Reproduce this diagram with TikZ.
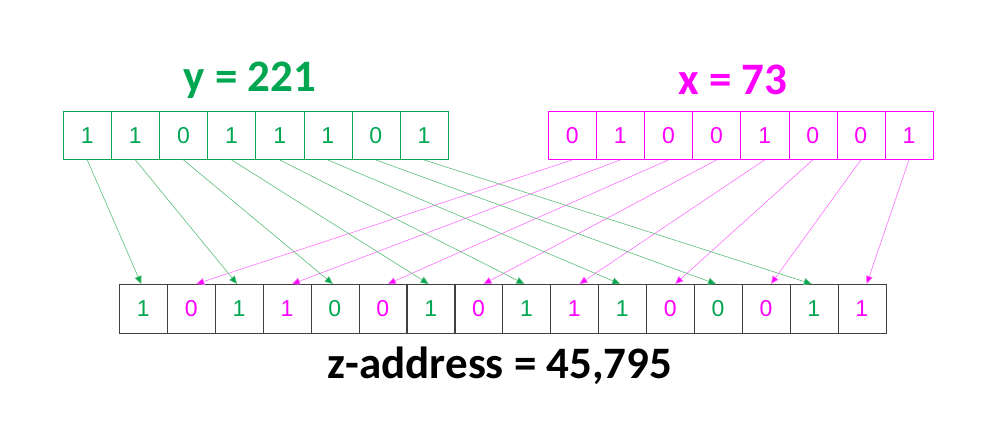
\documentclass[tikz,border=0pt]{standalone}
\usepackage{fontspec}
\setmainfont{Liberation Sans}
\newfontfamily\titlefont{Carlito}
\usetikzlibrary{arrows.meta,calc}
\definecolor{gr}{RGB}{0,166,80}
\definecolor{grl}{RGB}{90,190,120}
\definecolor{mg}{RGB}{255,0,255}
\definecolor{mgl}{RGB}{255,110,255}
\begin{document}
\begin{tikzpicture}[x=1pt,y=-1pt,
  cell/.style={draw=#1,minimum width=48.1pt,minimum height=48.5pt,inner sep=0pt,anchor=north west,font=\fontsize{23}{23}\selectfont},
  ttl/.style={font=\titlefont\bfseries\fontsize{45}{45}\selectfont},
  ga/.style={grl,-{Triangle[length=8pt,width=7pt,fill=gr]},line width=0.6pt},
  ma/.style={mgl,-{Triangle[length=8pt,width=7pt,fill=mg]},line width=0.6pt}]
\useasboundingbox (0,0) rectangle (1000,427);
\node[ttl,text=gr] (yt) at (250,80) {y = 221};
\node[ttl,text=mg] (xt) at (733,80) {x = 73};
\node[ttl,text=black] (zt) at (500,366) {z-address = 45,795};
\foreach \b [count=\i from 0] in {1,1,0,1,1,1,0,1}
  \node[cell=gr,text=gr] (y\i) at ({63+48.1*\i},111) {\b};
\foreach \b [count=\i from 0] in {0,1,0,0,1,0,0,1}
  \node[cell=mg,text=mg] (x\i) at ({548+48.1*\i},111) {\b};
\foreach \b/\c [count=\i from 0] in {1/gr,0/mg,1/gr,1/mg,0/gr,0/mg,1/gr,0/mg,1/gr,1/mg,1/gr,0/mg,0/gr,0/mg,1/gr,1/mg}
  \node[cell=black!75,text=\c] (z\i) at ({119+47.9*\i},284) {\b};
\foreach \i in {0,...,7}{
  \pgfmathtruncatemacro\g{2*\i}
  \pgfmathtruncatemacro\m{2*\i+1}
  \draw[ga] (y\i.south) -- ($(z\g.north)+(-2,0)$);
  \draw[ma] (x\i.south) -- ($(z\m.north)+(5,0)$);
}
\end{tikzpicture}
\end{document}
